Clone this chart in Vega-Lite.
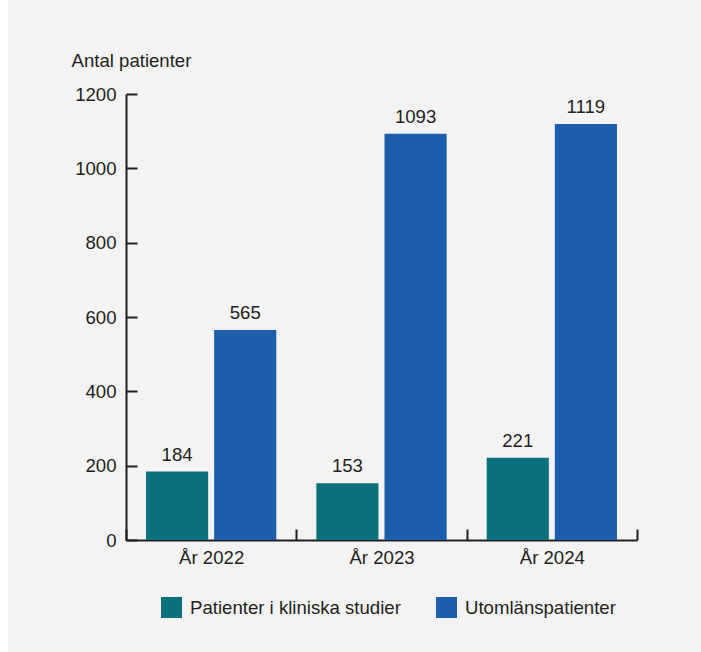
{
  "$schema": "https://vega.github.io/schema/vega-lite/v6.json",
  "width": 511,
  "height": 446,
  "autosize": "none",
  "padding": {"left": 126, "top": 94, "right": 64, "bottom": 112},
  "background": "#ffffff",
  "config": {
    "view": {"fill": "#f3f3f3", "stroke": "#f3f3f3", "strokeWidth": 236},
    "font": "Liberation Sans"
  },
  "data": {
    "values": [
      {"year": "År 2022", "series": "Patienter i kliniska studier", "value": 184},
      {"year": "År 2022", "series": "Utomlänspatienter", "value": 565},
      {"year": "År 2023", "series": "Patienter i kliniska studier", "value": 153},
      {"year": "År 2023", "series": "Utomlänspatienter", "value": 1093},
      {"year": "År 2024", "series": "Patienter i kliniska studier", "value": 221},
      {"year": "År 2024", "series": "Utomlänspatienter", "value": 1119}
    ]
  },
  "encoding": {
    "x": {
      "field": "year",
      "type": "nominal",
      "scale": {"paddingInner": 0, "paddingOuter": 0},
      "axis": {
        "title": null,
        "labelAngle": 0,
        "labelFontSize": 18.6,
        "labelColor": "#231f20",
        "labelPadding": 19,
        "labelBaseline": "top",
        "domainColor": "#231f20",
        "domainWidth": 2,
        "tickColor": "#231f20",
        "tickWidth": 2,
        "tickSize": -11,
        "tickBand": "extent",
        "grid": false
      }
    },
    "xOffset": {
      "field": "series",
      "type": "nominal",
      "scale": {"paddingInner": 0.088, "paddingOuter": 0.294}
    },
    "y": {
      "field": "value",
      "type": "quantitative",
      "scale": {"domain": [0, 1200], "nice": false},
      "axis": {
        "title": "Antal patienter",
        "titleAngle": 0,
        "titleAlign": "left",
        "titleBaseline": "alphabetic",
        "titleX": -55,
        "titleY": -28,
        "titleFontSize": 18.6,
        "titleFontWeight": "normal",
        "titleColor": "#231f20",
        "values": [0, 200, 400, 600, 800, 1000, 1200],
        "format": "d",
        "labelFontSize": 18.6,
        "labelColor": "#231f20",
        "labelPadding": 21,
        "domainColor": "#231f20",
        "domainWidth": 2,
        "tickColor": "#231f20",
        "tickWidth": 2,
        "tickSize": -11,
        "grid": false
      }
    }
  },
  "layer": [
    {
      "mark": {"type": "bar"},
      "encoding": {
        "color": {
          "field": "series",
          "type": "nominal",
          "scale": {
            "domain": ["Patienter i kliniska studier", "Utomlänspatienter"],
            "range": ["#0b717c", "#1c5eab"]
          },
          "legend": {
            "title": null,
            "orient": "none",
            "direction": "horizontal",
            "legendX": 35,
            "legendY": 503,
            "symbolType": "square",
            "symbolSize": 441,
            "symbolStrokeWidth": 0,
            "symbolOpacity": 1,
            "labelFontSize": 18.6,
            "labelLimit": 0,
            "labelColor": "#231f20",
            "labelOffset": 8,
            "columnPadding": 35,
            "padding": 0
          }
        }
      }
    },
    {
      "mark": {"type": "text", "baseline": "alphabetic", "dy": -11, "fontSize": 18.6, "color": "#231f20"},
      "encoding": {"text": {"field": "value", "type": "quantitative"}}
    }
  ]
}
